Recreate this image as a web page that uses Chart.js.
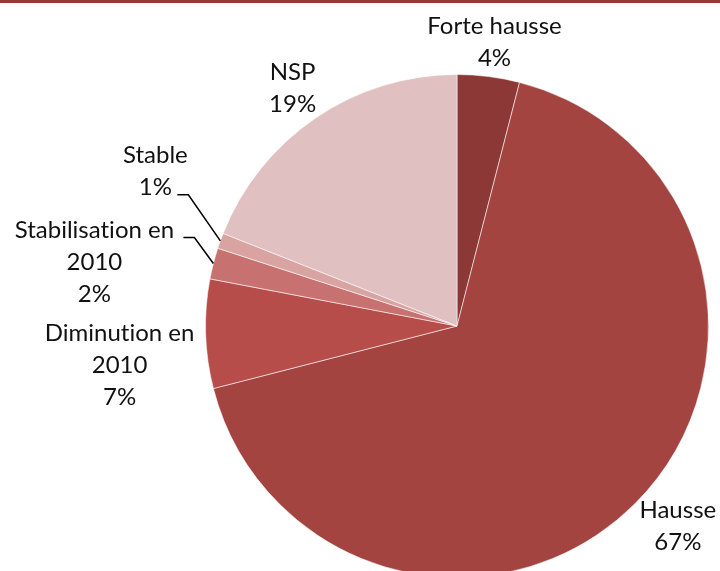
<!DOCTYPE html>
<html>
<head>
<meta charset="utf-8">
<script src="https://cdn.jsdelivr.net/npm/chart.js@4.4.1/dist/chart.umd.min.js"></script>
<style>
  html, body { margin: 0; padding: 0; background: #fff; overflow: hidden; }
  .wrap { position: relative; width: 720px; height: 600px; }
  .rule { position: absolute; top: 0; left: 0; width: 720px; height: 3px; background: #9a3835; }
</style>
</head>
<body>
<div class="wrap">
  <canvas id="pie" width="720" height="600"></canvas>
  <div class="rule"></div>
</div>
<script>
// Catégories et valeurs (en %)
const categories = ['Forte hausse', 'Hausse', 'Diminution en 2010', 'Stabilisation en 2010', 'Stable', 'NSP'];
const values = [4, 67, 7, 2, 1, 19];
const sliceColors = ['#8c3836', '#a44441', '#b64d4a', '#c77170', '#d9a3a2', '#e0c0c1'];

// Décalage des étiquettes par rapport au milieu de l'arc (style Excel)
const labelPlacement = [
  { dx: 6, dy: -34 },
  { dx: 43, dy: 22 },
  { dx: -86, dy: 31 },
  { dx: -119, dy: -1, elbow: [-19, -26] },
  { dx: -65, dy: -70, elbow: [-32, -46] },
  { dx: -23, dy: -30 },
];

const FONT = '24px Lato';
const LINE_H = 32;

// coupe "xxx en 2010" sur deux lignes
const wrapLabel = (name) => name.replace(' 2010', '\n2010').split('\n');
// pas de ligature "ti" de Lato
const noLig = (t) => t.replace(/ti/g, 't\u200Ci');

const pieLabels = {
  id: 'pieLabels',
  afterDatasetsDraw(chart) {
    const { ctx } = chart;
    const meta = chart.getDatasetMeta(0);
    const total = values.reduce((a, b) => a + b, 0);

    ctx.save();
    ctx.font = FONT;
    ctx.fillStyle = '#111';
    ctx.strokeStyle = '#000';
    ctx.lineWidth = 1.5;
    ctx.textAlign = 'center';
    ctx.textBaseline = 'middle';

    meta.data.forEach((arc, i) => {
      const { x, y, startAngle, endAngle, outerRadius } =
        arc.getProps(['x', 'y', 'startAngle', 'endAngle', 'outerRadius'], true);
      const mid = (startAngle + endAngle) / 2;
      const px = x + Math.cos(mid) * outerRadius;
      const py = y + Math.sin(mid) * outerRadius;
      const place = labelPlacement[i];

      const lines = [...wrapLabel(categories[i]), Math.round(values[i] / total * 100) + '%'];
      const cx = px + place.dx;
      const cy = py + place.dy;
      lines.forEach((t, k) => {
        ctx.fillText(noLig(t), cx, cy + (k - (lines.length - 1) / 2) * LINE_H);
      });

      // trait de rappel pour les petites parts
      if (place.elbow) {
        const ex = px + place.elbow[0];
        const ey = py + place.elbow[1];
        ctx.beginPath();
        ctx.moveTo(px, py);
        ctx.lineTo(ex, ey);
        ctx.lineTo(ex - 11, ey);
        ctx.stroke();
      }
    });
    ctx.restore();
  },
};

new Chart(document.getElementById('pie'), {
  type: 'pie',
  data: {
    labels: categories,
    datasets: [{
      data: values,
      backgroundColor: sliceColors,
      borderColor: 'rgba(255,255,255,0.55)',
      borderWidth: 1,
    }],
  },
  options: {
    responsive: false,
    animation: false,
    devicePixelRatio: 1,
    layout: { padding: { left: 205, right: 11, top: 74, bottom: 22 } },
    plugins: {
      legend: { display: false },
      tooltip: { enabled: false },
    },
  },
  plugins: [pieLabels],
});
</script>
</body>
</html>
